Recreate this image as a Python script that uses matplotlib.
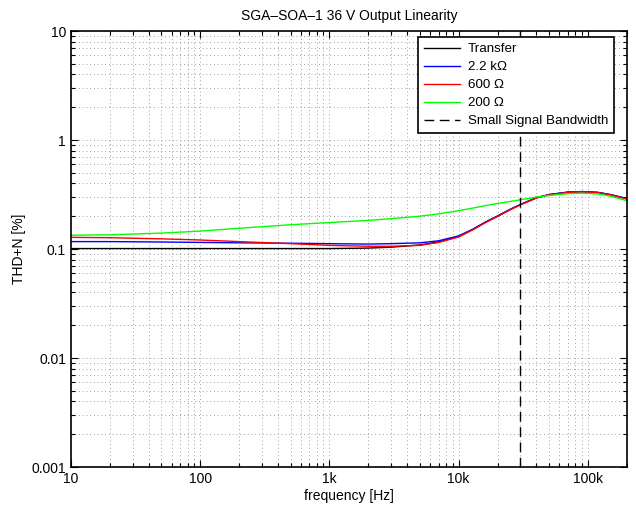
import matplotlib
matplotlib.use("Agg")
import matplotlib.pyplot as plt
from matplotlib.ticker import FixedLocator, FixedFormatter, LogLocator, NullFormatter

plt.rcParams['font.family'] = ['Liberation Sans', 'DejaVu Sans']

freq = [10, 20, 50, 100, 200, 500, 1000, 2000, 3000, 5000, 7000, 10000, 13000,
        16000, 20000, 25000, 30000, 40000, 50000, 70000, 90000, 120000, 150000, 200000]
transfer = [0.101, 0.101, 0.101, 0.101, 0.101, 0.101, 0.101, 0.102, 0.104, 0.109, 0.116, 0.130, 0.152,
            0.175, 0.200, 0.230, 0.255, 0.295, 0.315, 0.332, 0.336, 0.330, 0.315, 0.290]
r2k2 = [0.117, 0.117, 0.116, 0.115, 0.114, 0.113, 0.112, 0.111, 0.112, 0.114, 0.119, 0.132, 0.153,
        0.176, 0.201, 0.231, 0.256, 0.296, 0.316, 0.333, 0.337, 0.331, 0.316, 0.291]
r600 = [0.128, 0.127, 0.124, 0.121, 0.117, 0.112, 0.108, 0.106, 0.106, 0.108, 0.115, 0.129, 0.151,
        0.174, 0.199, 0.229, 0.254, 0.294, 0.314, 0.331, 0.335, 0.329, 0.314, 0.288]
r200 = [0.134, 0.135, 0.140, 0.146, 0.155, 0.167, 0.175, 0.183, 0.190, 0.200, 0.210, 0.225, 0.238,
        0.250, 0.262, 0.273, 0.283, 0.300, 0.310, 0.322, 0.325, 0.320, 0.305, 0.278]
bandwidth = 30000

labels = ['Transfer', '2.2 k\u03a9', '600 \u03a9', '200 \u03a9', 'Small Signal Bandwidth']
xticks = [10, 100, 1000, 10000, 100000]
xticklabels = ['10', '100', '1k', '10k', '100k']
yticks = [0.001, 0.01, 0.1, 1, 10]
yticklabels = ['0.001', '0.01', '0.1', '1', '10']

fig = plt.figure(figsize=(6.36, 5.09), dpi=100)
ax = fig.add_axes([0.1116, 0.0825, 0.8738, 0.8565])
ax.set_xscale('log')
ax.set_yscale('log')
ax.set_xlim(10, 200000)
ax.set_ylim(0.001, 10)

ax.plot(freq, transfer, color='black', lw=1.0, label=labels[0])
ax.plot(freq, r2k2, color=(0, 0, 1), lw=1.0, label=labels[1])
ax.plot(freq, r600, color=(1, 0, 0), lw=1.0, label=labels[2])
ax.plot(freq, r200, color=(0, 1, 0), lw=1.0, label=labels[3])
ax.axvline(bandwidth, color='black', lw=1.0, ls=(0, (7, 4)), label=labels[4])

ax.xaxis.set_major_locator(FixedLocator(xticks))
ax.xaxis.set_major_formatter(FixedFormatter(xticklabels))
ax.xaxis.set_minor_locator(LogLocator(base=10, subs=range(2, 10), numticks=20))
ax.xaxis.set_minor_formatter(NullFormatter())
ax.yaxis.set_major_locator(FixedLocator(yticks))
ax.yaxis.set_major_formatter(FixedFormatter(yticklabels))
ax.yaxis.set_minor_locator(LogLocator(base=10, subs=range(2, 10), numticks=20))
ax.yaxis.set_minor_formatter(NullFormatter())

ax.grid(True, which='both', color='0.5', ls=(0, (1, 3.5)), lw=0.6)
ax.tick_params(which='both', direction='in', top=True, right=True, labelsize=10, width=0.8)
ax.tick_params(which='major', length=5)
ax.tick_params(which='minor', length=3)
for s in ax.spines.values():
    s.set_linewidth(1.2)

ax.set_title('SGA\u2013SOA\u20131 36 V Output Linearity', fontsize=10, pad=8)
ax.set_xlabel('frequency [Hz]', fontsize=10, labelpad=2)
ax.set_ylabel('THD+N [%]', fontsize=10)

leg = ax.legend(loc='upper right', bbox_to_anchor=(0.977, 0.986), fontsize=9.6, handlelength=2.7,
                fancybox=False, framealpha=1, edgecolor='black', borderpad=0.45,
                labelspacing=0.42, handletextpad=0.6, borderaxespad=0)
leg.get_frame().set_linewidth(1.2)

fig.savefig('out.png', dpi=100)
